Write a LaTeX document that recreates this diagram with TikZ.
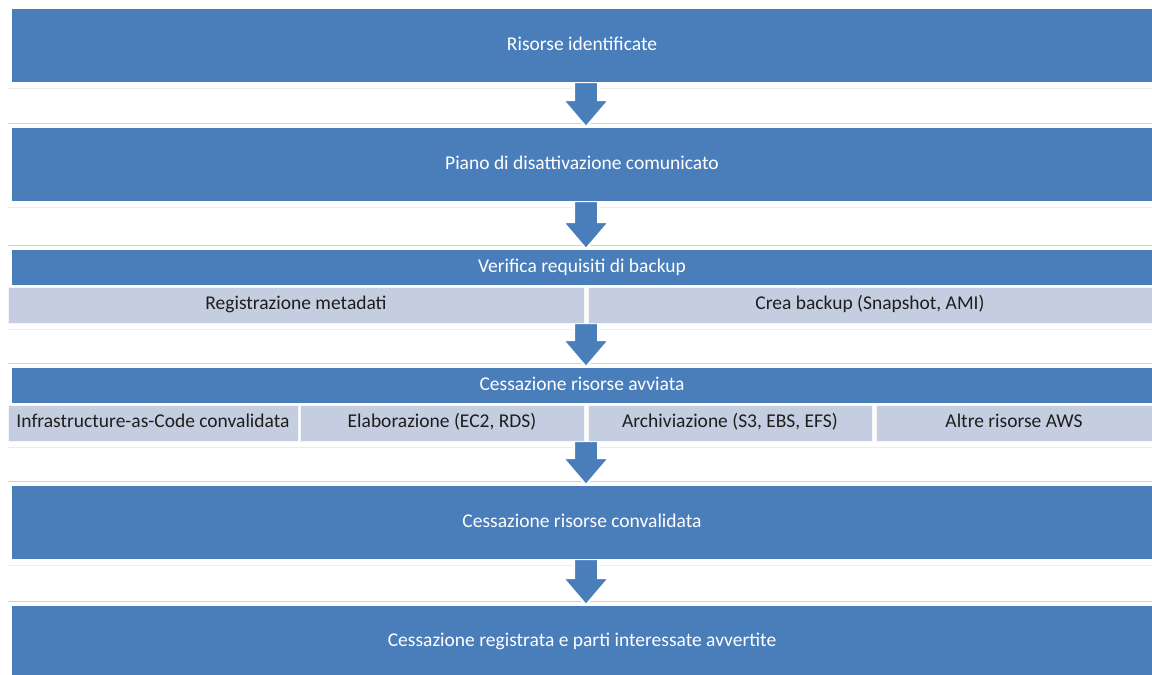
\documentclass[tikz,border=0pt]{standalone}
\usepackage{fontspec}
\setmainfont{Carlito}
\usepackage{tikz}
\usetikzlibrary{positioning,calc,backgrounds}
\definecolor{bandblue}{RGB}{74,126,187}
\definecolor{subgray}{RGB}{197,206,225}
\definecolor{subtext}{RGB}{30,30,30}

% block arrow from the bottom of #1 to the top of #2
\newcommand{\flowarrow}[2]{%
  \coordinate (at) at ($(#1.south -| #2.north)+(4,0)$);
  \coordinate (ah) at ($(#2.north)+(4,-28)$);
  \coordinate (ap) at ($(#2.north)+(4,-1)$);
  \filldraw[flow] ($(at)+(-12,0)$) -- ($(ah)+(-12,0)$) -- ($(ah)+(-23,0)$) -- (ap)
    -- ($(ah)+(23,0)$) -- ($(ah)+(12,0)$) -- ($(at)+(12,0)$) -- cycle;
}
% two faint rules in the gap between #1 and #2
\newcommand{\gaprules}[2]{%
  \draw[rulelight] ($(#1.south -| risorse.west)+(-4,6)$) -- ($(#1.south -| risorse.east)+(0,6)$);
  \draw[ruledark] ($(#2.north -| risorse.west)+(-4,-5)$) -- ($(#2.north -| risorse.east)+(0,-5)$);
}

\begin{document}
\begin{tikzpicture}[
    x=1pt, y=-1pt,
    node distance=46pt,
    band/.style={rectangle, fill=bandblue, text=white, minimum width=1140pt, minimum height=73pt,
      inner sep=0pt, outer sep=0pt, text height=13pt, text depth=4pt,
      font=\fontsize{19.5}{23}\selectfont},
    header/.style={band, minimum height=35pt},
    subbox/.style={rectangle, fill=subgray, draw=white!80!subgray, line width=1pt, text=subtext,
      minimum height=36pt, inner sep=0pt, outer sep=0pt, text height=13pt, text depth=4pt,
      font=\fontsize{19.5}{23}\selectfont},
    flow/.style={fill=bandblue, draw=white, line width=2pt, line join=miter},
    rulelight/.style={draw=gray!15, line width=0.8pt},
    ruledark/.style={draw=gray!35, line width=0.8pt}
]
    \useasboundingbox (0,0) rectangle (1152,675);

    \node[band] (risorse) at (582,45.5) {Risorse identificate};
    \node[band, below=46pt of risorse] (piano) {Piano di disattivazione comunicato};

    \node[header, below=49pt of piano] (verifica) {Verifica requisiti di backup};
    \node[subbox, minimum width=576pt, below right=2pt and -4pt of verifica.south west] (metadati) {Registrazione metadati};
    \node[subbox, minimum width=564pt, right=4pt of metadati] (backup) {Crea backup (Snapshot, AMI)};

    \node[header, below=45pt of metadati.south -| verifica.south] (avviata) {Cessazione risorse avviata};
    \node[subbox, minimum width=290pt, below right=2pt and -4pt of avviata.south west] (iac) {Infrastructure-as-Code convalidata};
    \node[subbox, minimum width=284pt, right=2pt of iac] (calcolo) {Elaborazione (EC2, RDS)};
    \node[subbox, minimum width=284pt, right=4pt of calcolo] (storage) {Archiviazione (S3, EBS, EFS)};
    \node[subbox, minimum width=276pt, right=4pt of storage] (altre) {Altre risorse AWS};

    \node[band, below=45pt of iac.south -| avviata.south] (convalidata) {Cessazione risorse convalidata};
    \node[band, minimum height=71pt, below=47pt of convalidata] (registrata) {Cessazione registrata e parti interessate avvertite};

    \begin{scope}[on background layer]
        \gaprules{risorse}{piano}
        \gaprules{piano}{verifica}
        \gaprules{metadati}{avviata}
        \gaprules{iac}{convalidata}
        \gaprules{convalidata}{registrata}

        \flowarrow{risorse}{piano}
        \flowarrow{piano}{verifica}
        \flowarrow{metadati}{avviata}
        \flowarrow{iac}{convalidata}
        \flowarrow{convalidata}{registrata}
    \end{scope}
\end{tikzpicture}
\end{document}
